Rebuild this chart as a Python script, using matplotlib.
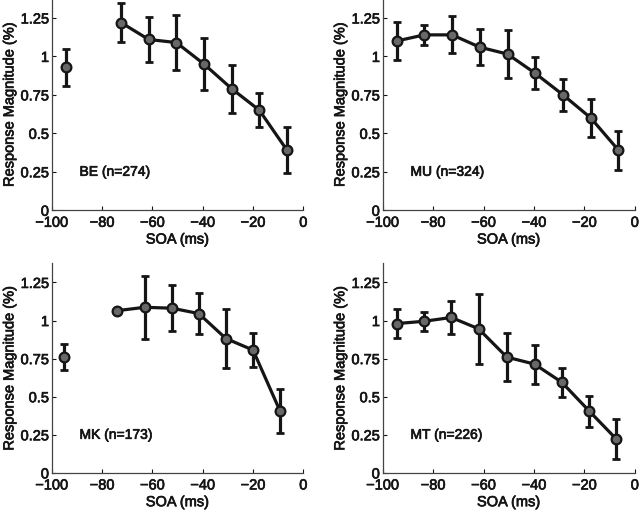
import matplotlib.pyplot as plt
import matplotlib.patheffects as pe
import numpy as np

plt.rcParams["font.family"] = ["Liberation Sans", "DejaVu Sans"]
plt.rcParams["font.size"] = 10.5

nan = np.nan

# SOA (ms), response magnitude (%) and error half-widths per monkey
be_soa = [-94.5, -83.5, -72.5, -61.5, -50.5, -39.5, -28.5, -17.5, -6.5]
be_mag = [0.93, nan, 1.22, 1.11, 1.09, 0.95, 0.79, 0.65, 0.39]
be_err = [0.12, nan, 0.125, 0.145, 0.18, 0.17, 0.155, 0.11, 0.15]

mu_soa = [-94.5, -83.5, -72.5, -61.5, -50.5, -39.5, -28.5, -17.5, -6.5]
mu_mag = [1.10, 1.14, 1.14, 1.06, 1.015, 0.89, 0.75, 0.60, 0.39]
mu_err = [0.125, 0.065, 0.12, 0.115, 0.155, 0.105, 0.105, 0.123, 0.127]

mk_soa = [-95.0, -84.5, -74.0, -63.0, -52.2, -41.6, -30.8, -20.0, -9.3]
mk_mag = [0.76, nan, 1.065, 1.087, 1.081, 1.046, 0.882, 0.806, 0.407]
mk_err = [0.085, nan, 0.0, 0.207, 0.15, 0.134, 0.194, 0.112, 0.145]

mt_soa = [-94.5, -83.7, -72.8, -62.0, -50.8, -39.8, -29.0, -18.0, -7.3]
mt_mag = [0.98, 0.995, 1.02, 0.946, 0.76, 0.714, 0.595, 0.404, 0.221]
mt_err = [0.095, 0.064, 0.109, 0.23, 0.156, 0.128, 0.094, 0.10, 0.132]

panels = [
    ("BE (n=274)", be_soa, be_mag, be_err),
    ("MU (n=324)", mu_soa, mu_mag, mu_err),
    ("MK (n=173)", mk_soa, mk_mag, mk_err),
    ("MT (n=226)", mt_soa, mt_mag, mt_err),
]

positions = [
    [0.081, 0.591, 0.393, 0.413],
    [0.598, 0.591, 0.394, 0.413],
    [0.081, 0.080, 0.393, 0.409],
    [0.598, 0.080, 0.394, 0.409],
]

y_ticks = [0, 0.25, 0.5, 0.75, 1, 1.25]
y_tick_labels = ["0", "0.25", "0.5", "0.75", "1", "1.25"]
x_ticks = [-100, -80, -60, -40, -20, 0]

fig = plt.figure(figsize=(6.4, 5.14), dpi=100)
dark = "#151515"
heavy = [pe.withStroke(linewidth=0.5, foreground=dark)]

for (name, soa, mag, err), pos in zip(panels, positions):
    ax = fig.add_axes(pos)
    soa = np.array(soa)
    mag = np.array(mag)
    err = np.array(err)
    ax.errorbar(soa, mag, yerr=err, fmt="none", ecolor=dark,
                elinewidth=2.3, capsize=2.6, capthick=2.0, zorder=2)
    ax.plot(soa, mag, "-o", color=dark, lw=2.3, markersize=7,
            markerfacecolor="#686868", markeredgecolor=dark,
            markeredgewidth=1.6, zorder=3)
    ax.text(-89, 0.25, name, fontsize=10, color=dark, va="center", ha="left",
            path_effects=heavy)

    ax.set_xlim(-100, 0)
    ax.set_ylim(0, 1.38)
    ax.set_xticks(x_ticks)
    ax.set_yticks(y_ticks)
    ax.set_yticklabels(y_tick_labels)
    ax.set_xlabel("SOA (ms)", color=dark, labelpad=2, path_effects=heavy)
    ax.set_ylabel("Response Magnitude (%)", color=dark, labelpad=3,
                  path_effects=heavy)
    ax.tick_params(direction="in", length=3, width=0.8, colors=dark,
                   labelsize=10.5)
    ax.tick_params(axis="x", pad=4)
    ax.tick_params(axis="y", pad=2)
    for label in ax.get_xticklabels() + ax.get_yticklabels():
        label.set_path_effects(heavy)
    for side in ["top", "right"]:
        ax.spines[side].set_visible(False)
    for side in ["left", "bottom"]:
        ax.spines[side].set_color("#444444")
        ax.spines[side].set_linewidth(0.9)

fig.savefig("out.png", dpi=100)
